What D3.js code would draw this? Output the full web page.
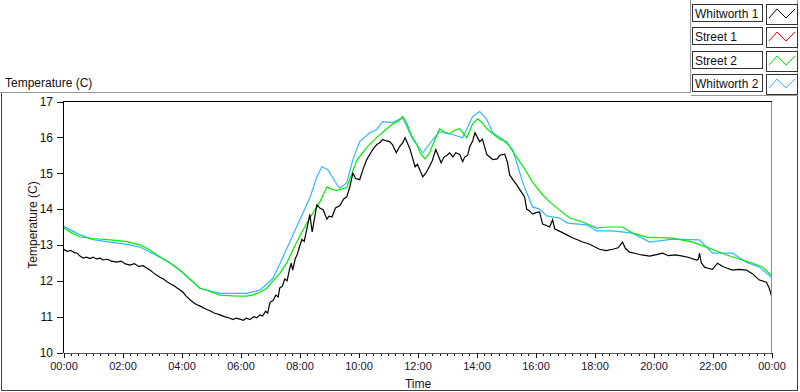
<!DOCTYPE html>
<html><head><meta charset="utf-8">
<script src="https://cdn.jsdelivr.net/npm/d3@7/dist/d3.min.js"></script>
<style>
body{margin:0;background:#fff;}
svg{display:block;font-family:"Liberation Sans",Arial,sans-serif;}
</style></head><body>
<svg id="c" width="800" height="392"></svg>
<script>
// ---------- data ----------
const seriesNames = ["Whitworth 1", "Street 1", "Street 2", "Whitworth 2"];
const seriesColors = ["#000000", "#ff0000", "#00ee00", "#33b5ff"];
const yTicks = [10, 11, 12, 13, 14, 15, 16, 17];
const xTickHours = [0, 2, 4, 6, 8, 10, 12, 14, 16, 18, 20, 22, 24];
const xTickLabels = ["00:00","02:00","04:00","06:00","08:00","10:00","12:00","14:00","16:00","18:00","20:00","22:00","00:00"];

// Whitworth 1 (black)
const w1Time = [0.00,0.12,0.25,0.35,0.46,0.55,0.66,0.78,0.90,1.00,1.12,1.25,1.34,1.50,1.62,1.81,1.95,2.10,2.25,2.40,2.55,2.70,2.83,2.93,3.05,3.15,3.27,3.40,3.50,3.62,3.75,3.85,3.94,4.05,4.15,4.28,4.39,4.50,4.62,4.75,4.86,5.00,5.10,5.20,5.30,5.45,5.60,5.75,5.85,5.98,6.10,6.20,6.32,6.45,6.55,6.66,6.75,6.85,6.92,7.00,7.10,7.20,7.28,7.33,7.42,7.50,7.58,7.67,7.72,7.77,7.85,7.93,8.00,8.08,8.16,8.25,8.35,8.43,8.50,8.59,8.70,8.80,8.93,9.00,9.10,9.22,9.37,9.50,9.60,9.70,9.81,9.90,10.04,10.15,10.28,10.40,10.50,10.62,10.72,10.82,10.95,11.05,11.15,11.28,11.40,11.50,11.58,11.68,11.75,11.84,11.92,12.00,12.10,12.18,12.28,12.40,12.50,12.62,12.70,12.80,12.90,13.00,13.09,13.20,13.30,13.43,13.53,13.60,13.70,13.77,13.87,13.95,14.03,14.11,14.20,14.35,14.45,14.55,14.70,14.79,14.96,15.05,15.12,15.25,15.36,15.50,15.63,15.70,15.80,15.90,16.02,16.14,16.24,16.35,16.48,16.58,16.65,16.72,16.90,17.06,17.25,17.40,17.60,17.84,18.00,18.17,18.40,18.61,18.80,18.95,19.05,19.19,19.40,19.60,19.87,20.10,20.31,20.50,20.75,20.99,21.20,21.46,21.52,21.56,21.62,21.73,21.85,22.00,22.17,22.35,22.50,22.68,22.90,23.15,23.35,23.59,23.75,23.83,23.92,24.00];
const w1Temp = [12.88,12.82,12.85,12.79,12.77,12.70,12.63,12.66,12.62,12.66,12.61,12.63,12.58,12.60,12.55,12.52,12.55,12.47,12.44,12.48,12.40,12.42,12.35,12.30,12.22,12.16,12.10,12.04,11.98,11.92,11.86,11.80,11.75,11.68,11.58,11.48,11.40,11.34,11.30,11.24,11.20,11.15,11.10,11.08,11.05,11.00,10.97,10.92,10.96,10.93,10.90,10.96,10.92,11.00,10.97,11.05,11.02,11.15,11.10,11.40,11.45,11.60,11.55,11.80,11.85,12.05,12.00,12.35,12.49,12.30,12.60,12.75,12.95,13.15,13.10,13.45,13.85,13.36,13.70,14.12,14.02,13.98,13.72,13.80,13.78,14.03,14.10,14.28,14.34,14.60,15.00,14.85,14.82,15.10,15.38,15.55,15.68,15.80,15.85,15.94,15.90,15.88,15.80,15.57,15.75,15.85,15.99,15.80,15.66,15.40,15.18,15.25,15.05,14.90,15.00,15.18,15.35,15.66,15.50,15.29,15.45,15.50,15.57,15.45,15.57,15.52,15.32,15.45,15.50,15.74,15.90,16.13,16.00,15.88,15.95,15.52,15.45,15.38,15.40,15.50,15.53,15.30,14.96,14.80,14.68,14.50,14.34,14.00,13.95,13.86,13.90,13.92,13.58,13.55,13.50,13.70,13.45,13.42,13.35,13.28,13.20,13.15,13.08,13.02,12.95,12.88,12.84,12.88,12.92,13.08,12.90,12.80,12.76,12.72,12.69,12.73,12.77,12.70,12.72,12.69,12.65,12.58,12.60,12.77,12.50,12.38,12.35,12.32,12.49,12.40,12.35,12.30,12.32,12.30,12.20,12.02,11.98,11.96,11.80,11.58];

// Street 1 (red) — not visible in the picture (hidden / no data shown)
const s1Time = [];
const s1Temp = [];

// Street 2 (green)
const s2Time = [0.00,0.25,0.56,1.00,1.58,2.10,2.59,2.93,3.27,3.60,3.94,4.28,4.62,4.96,5.30,5.75,6.20,6.40,6.66,6.90,7.10,7.33,7.57,7.77,8.01,8.35,8.69,8.93,9.10,9.27,9.60,9.94,10.28,10.62,10.96,11.16,11.35,11.50,11.64,11.80,11.98,12.10,12.25,12.40,12.52,12.75,12.90,13.09,13.25,13.43,13.67,13.87,14.04,14.20,14.35,14.55,14.79,15.02,15.23,15.40,15.57,15.90,16.24,16.48,16.82,17.16,17.60,18.07,18.41,18.95,19.29,19.77,20.65,21.32,21.80,22.48,22.92,23.36,23.70,24.00];
const s2Temp = [13.48,13.35,13.22,13.18,13.14,13.10,13.00,12.86,12.66,12.50,12.30,12.05,11.80,11.70,11.60,11.58,11.57,11.60,11.68,11.80,12.00,12.20,12.50,12.85,13.25,13.75,14.20,14.62,14.55,14.52,14.60,15.35,15.72,16.00,16.24,16.38,16.45,16.58,16.38,16.05,15.80,15.55,15.40,15.55,15.80,16.24,16.15,16.10,16.20,16.24,15.99,16.38,16.52,16.40,16.24,16.10,15.95,15.88,15.60,15.40,15.20,14.75,14.40,14.20,13.97,13.75,13.64,13.47,13.50,13.50,13.33,13.22,13.19,13.08,12.94,12.72,12.60,12.49,12.38,12.15];

// Whitworth 2 (light blue)
const w2Time = [0.00,0.56,1.00,1.58,2.10,2.59,3.27,3.60,3.94,4.28,4.62,5.30,6.20,6.66,7.10,7.35,7.57,8.01,8.35,8.59,8.76,8.96,9.27,9.37,9.60,9.81,10.04,10.38,10.62,10.82,11.16,11.50,11.84,12.18,12.52,12.75,13.19,13.53,13.87,14.11,14.35,14.55,14.89,15.23,15.57,15.90,16.14,16.38,16.82,17.09,17.73,18.07,18.61,19.29,19.87,20.65,21.56,22.00,22.68,23.15,23.59,24.00];
const w2Temp = [13.52,13.28,13.15,13.08,13.02,12.94,12.66,12.50,12.30,12.05,11.79,11.65,11.65,11.74,12.07,12.50,12.90,13.70,14.31,14.90,15.18,15.10,14.68,14.59,14.73,15.38,15.88,16.13,16.22,16.44,16.41,16.55,15.94,15.57,15.94,16.16,16.08,15.99,16.58,16.72,16.50,16.13,15.94,15.66,14.73,14.06,14.00,13.81,13.75,13.61,13.56,13.39,13.39,13.33,13.08,13.16,13.14,12.77,12.77,12.52,12.38,12.10];

// ---------- drawing ----------
const svg = d3.select("#c");
const x = d3.scaleLinear().domain([0, 24]).range([63.5, 771.5]);
const y = d3.scaleLinear().domain([10, 17]).range([352.5, 101.5]);

// panel frames
const fr = svg.append("g").attr("fill", "none").attr("shape-rendering", "crispEdges");
fr.append("path").attr("d", "M0,92.5H690.5V0").attr("stroke", "#9a9a9a");
fr.append("path").attr("d", "M690.5,95.5H797.5V0").attr("stroke", "#9a9a9a");
fr.append("path").attr("d", "M1.5,92.5V390.5H797.5V95.5").attr("stroke", "#404040");

// header title
svg.append("text").attr("x", 5).attr("y", 87).attr("font-size", 12).attr("fill", "#111").text("Temperature (C)");

// plot frame (top/left black, right grey)
fr.append("path").attr("d", `M${x(0)},${y(10)}V${y(17)}H${x(24)}`).attr("stroke", "#000");
fr.append("path").attr("d", `M${x(24)},${y(17)}V${y(10)}`).attr("stroke", "#8a8a8a");

// x axis (minor + major ticks)
const minorHours = d3.range(0, 24.001, 0.25).filter(h => Math.abs(h / 2 - Math.round(h / 2)) > 1e-6);
const xMinor = svg.append("g").attr("transform", `translate(0,${y(10)})`)
  .call(d3.axisBottom(x).tickValues(minorHours).tickSize(3).tickSizeOuter(0).tickFormat(""));
const xMajor = svg.append("g").attr("transform", `translate(0,${y(10)})`)
  .call(d3.axisBottom(x).tickValues(xTickHours).tickSize(5).tickSizeOuter(0).tickPadding(5)
    .tickFormat((d, i) => xTickLabels[i]));
[xMinor, xMajor].forEach(g => {
  g.select(".domain").attr("stroke", "#555").attr("shape-rendering", "crispEdges");
  g.selectAll(".tick line").attr("stroke", "#111").attr("shape-rendering", "crispEdges");
});
xMajor.selectAll(".tick text").attr("font-size", 11).attr("fill", "#1a1030")
  .attr("font-family", "Liberation Sans, Arial, sans-serif");

// y axis
const yAx = svg.append("g").attr("transform", `translate(${x(0) - 0.5},0)`)
  .call(d3.axisLeft(y).tickValues(yTicks).tickSize(6).tickSizeOuter(0).tickPadding(4).tickFormat(d3.format("d")));
yAx.select(".domain").remove();
yAx.selectAll(".tick line").attr("stroke", "#111").attr("shape-rendering", "crispEdges");
yAx.selectAll(".tick text").attr("font-size", 12).attr("fill", "#111")
  .attr("font-family", "Liberation Sans, Arial, sans-serif");

// axis titles
svg.append("text").attr("x", 418).attr("y", 388).attr("text-anchor", "middle")
  .attr("font-size", 12).attr("fill", "#1a1030").text("Time");
svg.append("text").attr("transform", "translate(37,225) rotate(-90)").attr("text-anchor", "middle")
  .attr("font-size", 12).attr("fill", "#2a1010").text("Temperature (C)");

// clip
svg.append("clipPath").attr("id", "clip").append("rect")
  .attr("x", x(0) + 0.5).attr("y", y(17) + 0.5).attr("width", x(24) - x(0) - 1).attr("height", y(10) - y(17) - 1);

const line = d3.line().x(d => x(d[0])).y(d => y(d[1]));
const zip = (t, v) => t.map((d, i) => [d, v[i]]);
const series = [
  { times: w2Time, temps: w2Temp, color: seriesColors[3] },
  { times: s1Time, temps: s1Temp, color: seriesColors[1] },
  { times: s2Time, temps: s2Temp, color: seriesColors[2] },
  { times: w1Time, temps: w1Temp, color: seriesColors[0] }
];
const pg = svg.append("g").attr("clip-path", "url(#clip)");
series.forEach(s => {
  if (!s.times.length) return;
  pg.append("path").datum(zip(s.times, s.temps)).attr("d", line)
    .attr("fill", "none").attr("stroke", s.color).attr("stroke-width", 1.2);
});

// legend
const lg = svg.append("g");
seriesNames.forEach((name, i) => {
  const top = 4 + Math.round(i * 23.3);
  const r = lg.append("g").attr("transform", `translate(0,${top})`);
  r.append("rect").attr("x", 692.5).attr("y", 0.5).attr("width", 70).attr("height", 17)
    .attr("fill", "#fff").attr("stroke", "#333").attr("shape-rendering", "crispEdges");
  r.append("text").attr("x", 695).attr("y", 14).attr("font-size", 12).attr("fill", "#111").text(name);
  r.append("rect").attr("x", 766.5).attr("y", 0.5).attr("width", 31).attr("height", 20)
    .attr("fill", "#fff").attr("stroke", "#333").attr("shape-rendering", "crispEdges");
  r.append("path").attr("d", "M769,14L777,5L786,14L795,5").attr("fill", "none")
    .attr("stroke", seriesColors[i]).attr("stroke-width", 1);
});
</script>
</body></html>
